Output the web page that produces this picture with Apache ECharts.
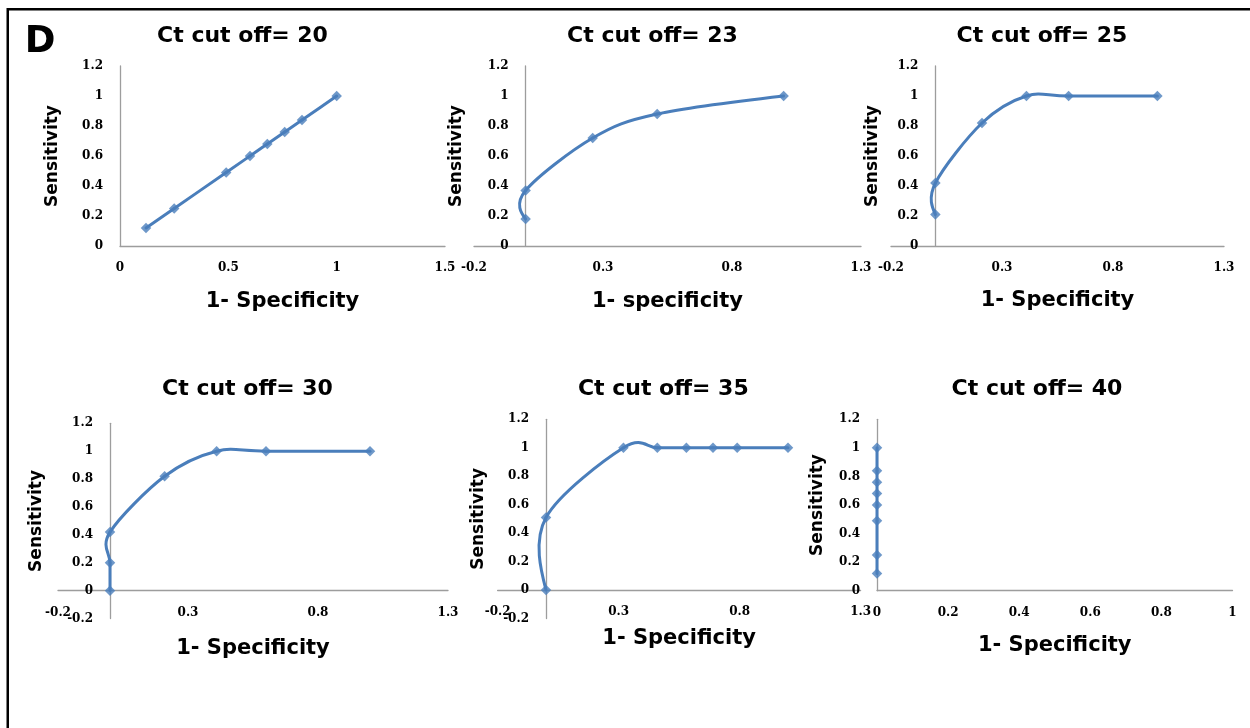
<!DOCTYPE html>
<html>
<head>
<meta charset="utf-8">
<title>ROC curves by Ct cut off</title>
<script src="https://cdn.jsdelivr.net/npm/echarts@6/dist/echarts.min.js"></script>
<style>
  html, body { margin: 0; padding: 0; background: #fff; }
  #chart { width: 1250px; height: 728px; }
</style>
</head>
<body>
<div id="chart"></div>
<script>
// ROC points (1 - specificity, sensitivity) for each Ct cut off
const ct20Fpr = [0.12, 0.25, 0.49, 0.6, 0.68, 0.76, 0.84, 1];
const ct20Sens = [0.12, 0.25, 0.49, 0.6, 0.68, 0.76, 0.84, 1];
const ct23Fpr = [0, 0, 0.26, 0.51, 1];
const ct23Sens = [0.18, 0.37, 0.72, 0.88, 1];
const ct25Fpr = [0, 0, 0.21, 0.41, 0.6, 1];
const ct25Sens = [0.21, 0.42, 0.82, 1, 1, 1];
const ct30Fpr = [0, 0, 0, 0.21, 0.41, 0.6, 1];
const ct30Sens = [0, 0.2, 0.42, 0.82, 1, 1, 1];
const ct35Fpr = [0, 0, 0.32, 0.46, 0.58, 0.69, 0.79, 1];
const ct35Sens = [0, 0.51, 1, 1, 1, 1, 1, 1];
const ct40Fpr = [0, 0, 0, 0, 0, 0, 0, 0];
const ct40Sens = [0.12, 0.25, 0.49, 0.6, 0.68, 0.76, 0.84, 1];

// Panel titles and axis titles
const panelTitles = ['Ct cut off= 20', 'Ct cut off= 23', 'Ct cut off= 25',
                     'Ct cut off= 30', 'Ct cut off= 35', 'Ct cut off= 40'];
const xTitles = ['1- Specificity', '1- specificity', '1- Specificity',
                 '1- Specificity', '1- Specificity', '1- Specificity'];
const yTitle = 'Sensitivity';
const figureLetter = 'D';

// Tick ranges of each panel
const xTickMin = [0, -0.2, -0.2, -0.2, -0.2, 0];
const xTickMax = [1.5, 1.3, 1.3, 1.3, 1.3, 1];
const xTickStep = [0.5, 0.5, 0.5, 0.5, 0.5, 0.2];
const yTickMin = [0, 0, 0, -0.2, -0.2, 0];
const yTickMax = [1.2, 1.2, 1.2, 1.2, 1.2, 1.2];
const yTickStep = [0.2, 0.2, 0.2, 0.2, 0.2, 0.2];

const panelData = [
  [ct20Fpr, ct20Sens], [ct23Fpr, ct23Sens], [ct25Fpr, ct25Sens],
  [ct30Fpr, ct30Sens], [ct35Fpr, ct35Sens], [ct40Fpr, ct40Sens]
];

// ---- layout (pixels) ----
const gridBoxes = [
  { left: 120,   top: 66,    width: 325,   height: 180 },
  { left: 474,   top: 66,    width: 387,   height: 180 },
  { left: 891,   top: 66,    width: 333,   height: 180 },
  { left: 58,    top: 423.3, width: 390,   height: 195.3 },
  { left: 497.6, top: 419.3, width: 363,   height: 199.2 },
  { left: 877,   top: 419.3, width: 355.5, height: 171.4 }
];
const titleCenters = [[242.5, 36], [652.5, 36], [1042, 36], [247.5, 389], [663.3, 389], [1037, 389]];
const xNameGaps = [45, 45, 44, 47, 38, 44];
const yNameGaps = [59, 61, 54, 65, 59, 51];

const axisGrey = '#9d9d9d';
const lineBlue = '#4a7ebb';
const tickFont = { fontFamily: 'DejaVu Serif', fontWeight: 'bold', fontSize: 12, color: '#000' };

// Smoothed curve through the points (Catmull-Rom style cubic segments),
// computed in pixel space from the axes' own data-to-pixel conversion.
function curveRenderer(xs, ys) {
  const n = xs.length;
  const endPull = 0.38;
  return function (params, api) {
    const i = params.dataIndex;
    if (i >= n - 1) return null;
    const pt = k => {
      const j = Math.max(0, Math.min(n - 1, k));
      return api.coord([xs[j], ys[j]]);
    };
    const p0 = pt(i - 1), p1 = pt(i), p2 = pt(i + 1), p3 = pt(i + 2);
    let c1 = [p1[0] + (p2[0] - p0[0]) / 6, p1[1] + (p2[1] - p0[1]) / 6];
    let c2 = [p2[0] - (p3[0] - p1[0]) / 6, p2[1] - (p3[1] - p1[1]) / 6];
    if (n > 2 && i === 0) c1 = [p1[0] + (c2[0] - p1[0]) * endPull, p1[1] + (c2[1] - p1[1]) * endPull];
    if (n > 2 && i === n - 2) c2 = [p2[0] + (c1[0] - p2[0]) * endPull, p2[1] + (c1[1] - p2[1]) * endPull];
    return {
      type: 'bezierCurve',
      shape: { x1: p1[0], y1: p1[1], x2: p2[0], y2: p2[1],
               cpx1: c1[0], cpy1: c1[1], cpx2: c2[0], cpy2: c2[1] },
      style: { stroke: lineBlue, lineWidth: 3, fill: null, lineCap: 'round' }
    };
  };
}

const chart = echarts.init(document.getElementById('chart'), null, { renderer: 'canvas' });

const grid = [], xAxis = [], yAxis = [], series = [], graphic = [];

gridBoxes.forEach((g, i) => {
  // axes cross at zero: shift them inward from the grid edges
  const xShift = xTickMin[i] < 0 ? -g.width * (0 - xTickMin[i]) / (xTickMax[i] - xTickMin[i]) : 0;
  const yShift = yTickMin[i] < 0 ? -g.height * (0 - yTickMin[i]) / (yTickMax[i] - yTickMin[i]) : 0;

  grid.push(Object.assign({ containLabel: false, outerBoundsMode: 'none' }, g));
  xAxis.push({
    type: 'value', gridIndex: i, position: 'bottom', offset: yShift,
    min: xTickMin[i], max: xTickMax[i], interval: xTickStep[i],
    name: xTitles[i], nameLocation: 'middle', nameGap: xNameGaps[i], nameMoveOverlap: false,
    nameTextStyle: { fontFamily: 'DejaVu Sans', fontWeight: 'bold', fontSize: 21, color: '#000' },
    axisLine: { show: true, onZero: false, lineStyle: { color: axisGrey, width: 1.3 } },
    axisTick: { show: false },
    splitLine: { show: false },
    axisLabel: Object.assign({ margin: 16, hideOverlap: false, showMinLabel: true, showMaxLabel: true }, tickFont)
  });
  yAxis.push({
    type: 'value', gridIndex: i, position: 'left', offset: xShift,
    min: yTickMin[i], max: yTickMax[i], interval: yTickStep[i],
    name: yTitle, nameLocation: 'middle', nameGap: yNameGaps[i], nameMoveOverlap: false,
    nameTextStyle: { fontFamily: 'DejaVu Sans', fontWeight: 'bold', fontSize: 17, color: '#000' },
    axisLine: { show: true, onZero: false, lineStyle: { color: axisGrey, width: 1.3 } },
    axisTick: { show: false },
    splitLine: { show: false },
    axisLabel: Object.assign({ margin: 17, hideOverlap: false, showMinLabel: true, showMaxLabel: true }, tickFont)
  });
  const [fpr, sens] = panelData[i];
  const points = fpr.map((x, k) => [x, sens[k]]);
  series.push({
    type: 'custom', coordinateSystem: 'cartesian2d', xAxisIndex: i, yAxisIndex: i,
    data: points, encode: { x: 0, y: 1 }, z: 2, silent: true,
    renderItem: curveRenderer(fpr, sens)
  });
  series.push({
    type: 'scatter', xAxisIndex: i, yAxisIndex: i,
    data: points, z: 3, silent: true,
    symbol: 'diamond', symbolSize: 10.5,
    itemStyle: { color: lineBlue },
    emphasis: { disabled: true }
  });
  graphic.push({
    type: 'text', x: titleCenters[i][0], y: titleCenters[i][1],
    style: {
      text: panelTitles[i], fill: '#000',
      font: 'bold 22px "DejaVu Sans"', align: 'center', verticalAlign: 'middle'
    }
  });
});

// figure frame and panel letter
graphic.push({
  type: 'rect', shape: { x: 7.75, y: 9.25, width: 1300, height: 800 },
  style: { fill: null, stroke: '#000', lineWidth: 2.5 }
});
graphic.push({
  type: 'text', x: 40, y: 42,
  style: { text: figureLetter, fill: '#000', font: 'bold 37px "DejaVu Sans"', align: 'center', verticalAlign: 'middle' }
});

chart.setOption({
  backgroundColor: '#fff',
  animation: false,
  grid, xAxis, yAxis, series, graphic
});
</script>
</body>
</html>
